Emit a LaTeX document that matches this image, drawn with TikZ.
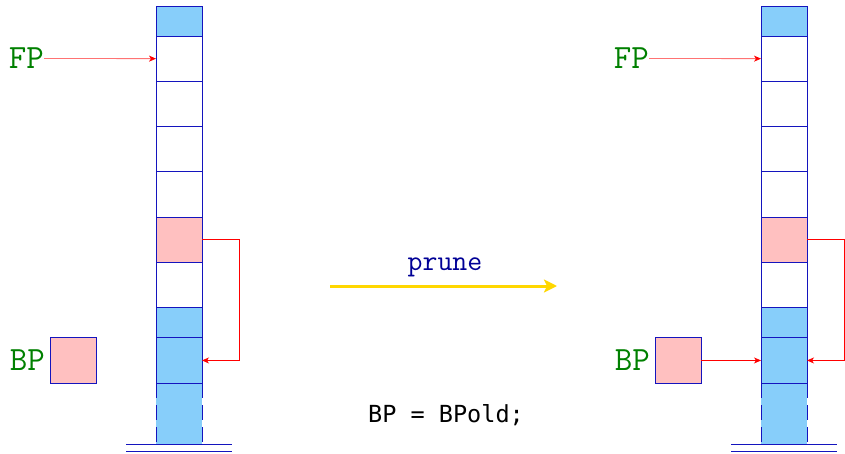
\documentclass[tikz,border=0pt]{standalone}
\usepackage{fontspec}
\usepackage{tikz}
\usetikzlibrary{positioning}
\usetikzlibrary{arrows.meta}
\newfontfamily\codefont{DejaVu Sans Mono}

\definecolor{cellblue}{RGB}{135,206,250}
\definecolor{cellpink}{RGB}{255,192,192}
\definecolor{edgeblue}{RGB}{20,20,190}
\definecolor{reggreen}{RGB}{0,128,0}
\definecolor{prunegold}{RGB}{255,215,0}
\definecolor{prunenavy}{RGB}{0,0,150}

\begin{document}
\begin{tikzpicture}[x=1pt, y=-1pt, node distance=0pt,
    cell/.style={draw=edgeblue, line width=1pt, fill=white, inner sep=0pt, outer sep=0pt,
                 minimum width=46pt, minimum height=45.3pt},
    halfcell/.style={cell, minimum height=30pt},
    ptr/.style={red, line width=0.8pt, -{Stealth[length=7pt,width=6pt,inset=2pt]}},
    fpptr/.style={red!55, line width=0.8pt, -{Stealth[length=7pt,width=6pt,inset=2pt,color=red]}},
    reg/.style={text=reggreen, inner sep=0pt, font=\fontsize{34}{40}\selectfont\ttfamily}]
    \useasboundingbox (0,0) rectangle (845,453);

    % both stacks, before and after
    \foreach \s/\dx in {L/0, R/605} {
        \node[halfcell, fill=cellblue] (\s0) at (\dx+179,21) {};
        \node[cell, below=of \s0] (\s1) {};
        \node[cell, below=of \s1] (\s2) {};
        \node[cell, below=of \s2] (\s3) {};
        \node[cell, below=of \s3] (\s4) {};
        \node[cell, fill=cellpink, below=of \s4] (\s5) {};
        \node[cell, below=of \s5] (\s6) {};
        \node[halfcell, fill=cellblue, below=of \s6] (\s7) {};
        \node[cell, fill=cellblue, below=of \s7] (\s8) {};
        \node[cell, draw=none, fill=cellblue, minimum height=61pt, below=of \s8] (\s9) {};

        \draw[edgeblue, line width=1pt] (\s9.north west) -- (\s9.north east);
        \draw[edgeblue, line width=1pt, dash pattern=on 15pt off 7pt] (\s9.north west) -- (\s9.south west);
        \draw[edgeblue, line width=1pt, dash pattern=on 15pt off 7pt] (\s9.north east) -- (\s9.south east);

        % ground
        \draw[edgeblue, line width=1pt] (\s9.south) ++(-53,0.5) -- ++(106,0);
        \draw[edgeblue, line width=1pt] (\s9.south) ++(-53,7.5) -- ++(106,0);

        \node[cell, fill=cellpink, left=60pt of \s8] (\s bp) {};
        \node[reg, left=5pt of \s bp] (\s bplabel) {BP};
        \node[reg, anchor=east] (\s fp) at (\dx+44,58.5) {FP};

        \draw[fpptr] (\s fp.east) -- (\s1.west);
        \draw[ptr] (\s5.east) -- ++(37,0) |- (\s8.east);
    }

    \draw[ptr] (Rbp.east) -- (R8.west);

    % the step between them
    \coordinate (prunestart) at (330,286);
    \coordinate (pruneend) at (557,286);
    \draw[prunegold, line width=3pt, -{Stealth[length=13pt,width=13pt,inset=3pt]}] (prunestart) -- (pruneend);
    \node[anchor=base, text=prunenavy, font=\fontsize{29}{34}\selectfont\ttfamily] (prune) at (445,270) {prune};
    \node[anchor=base, font=\fontsize{23.5}{28}\selectfont\codefont] (assign) at (446,422) {BP = BPold;};
\end{tikzpicture}
\end{document}
